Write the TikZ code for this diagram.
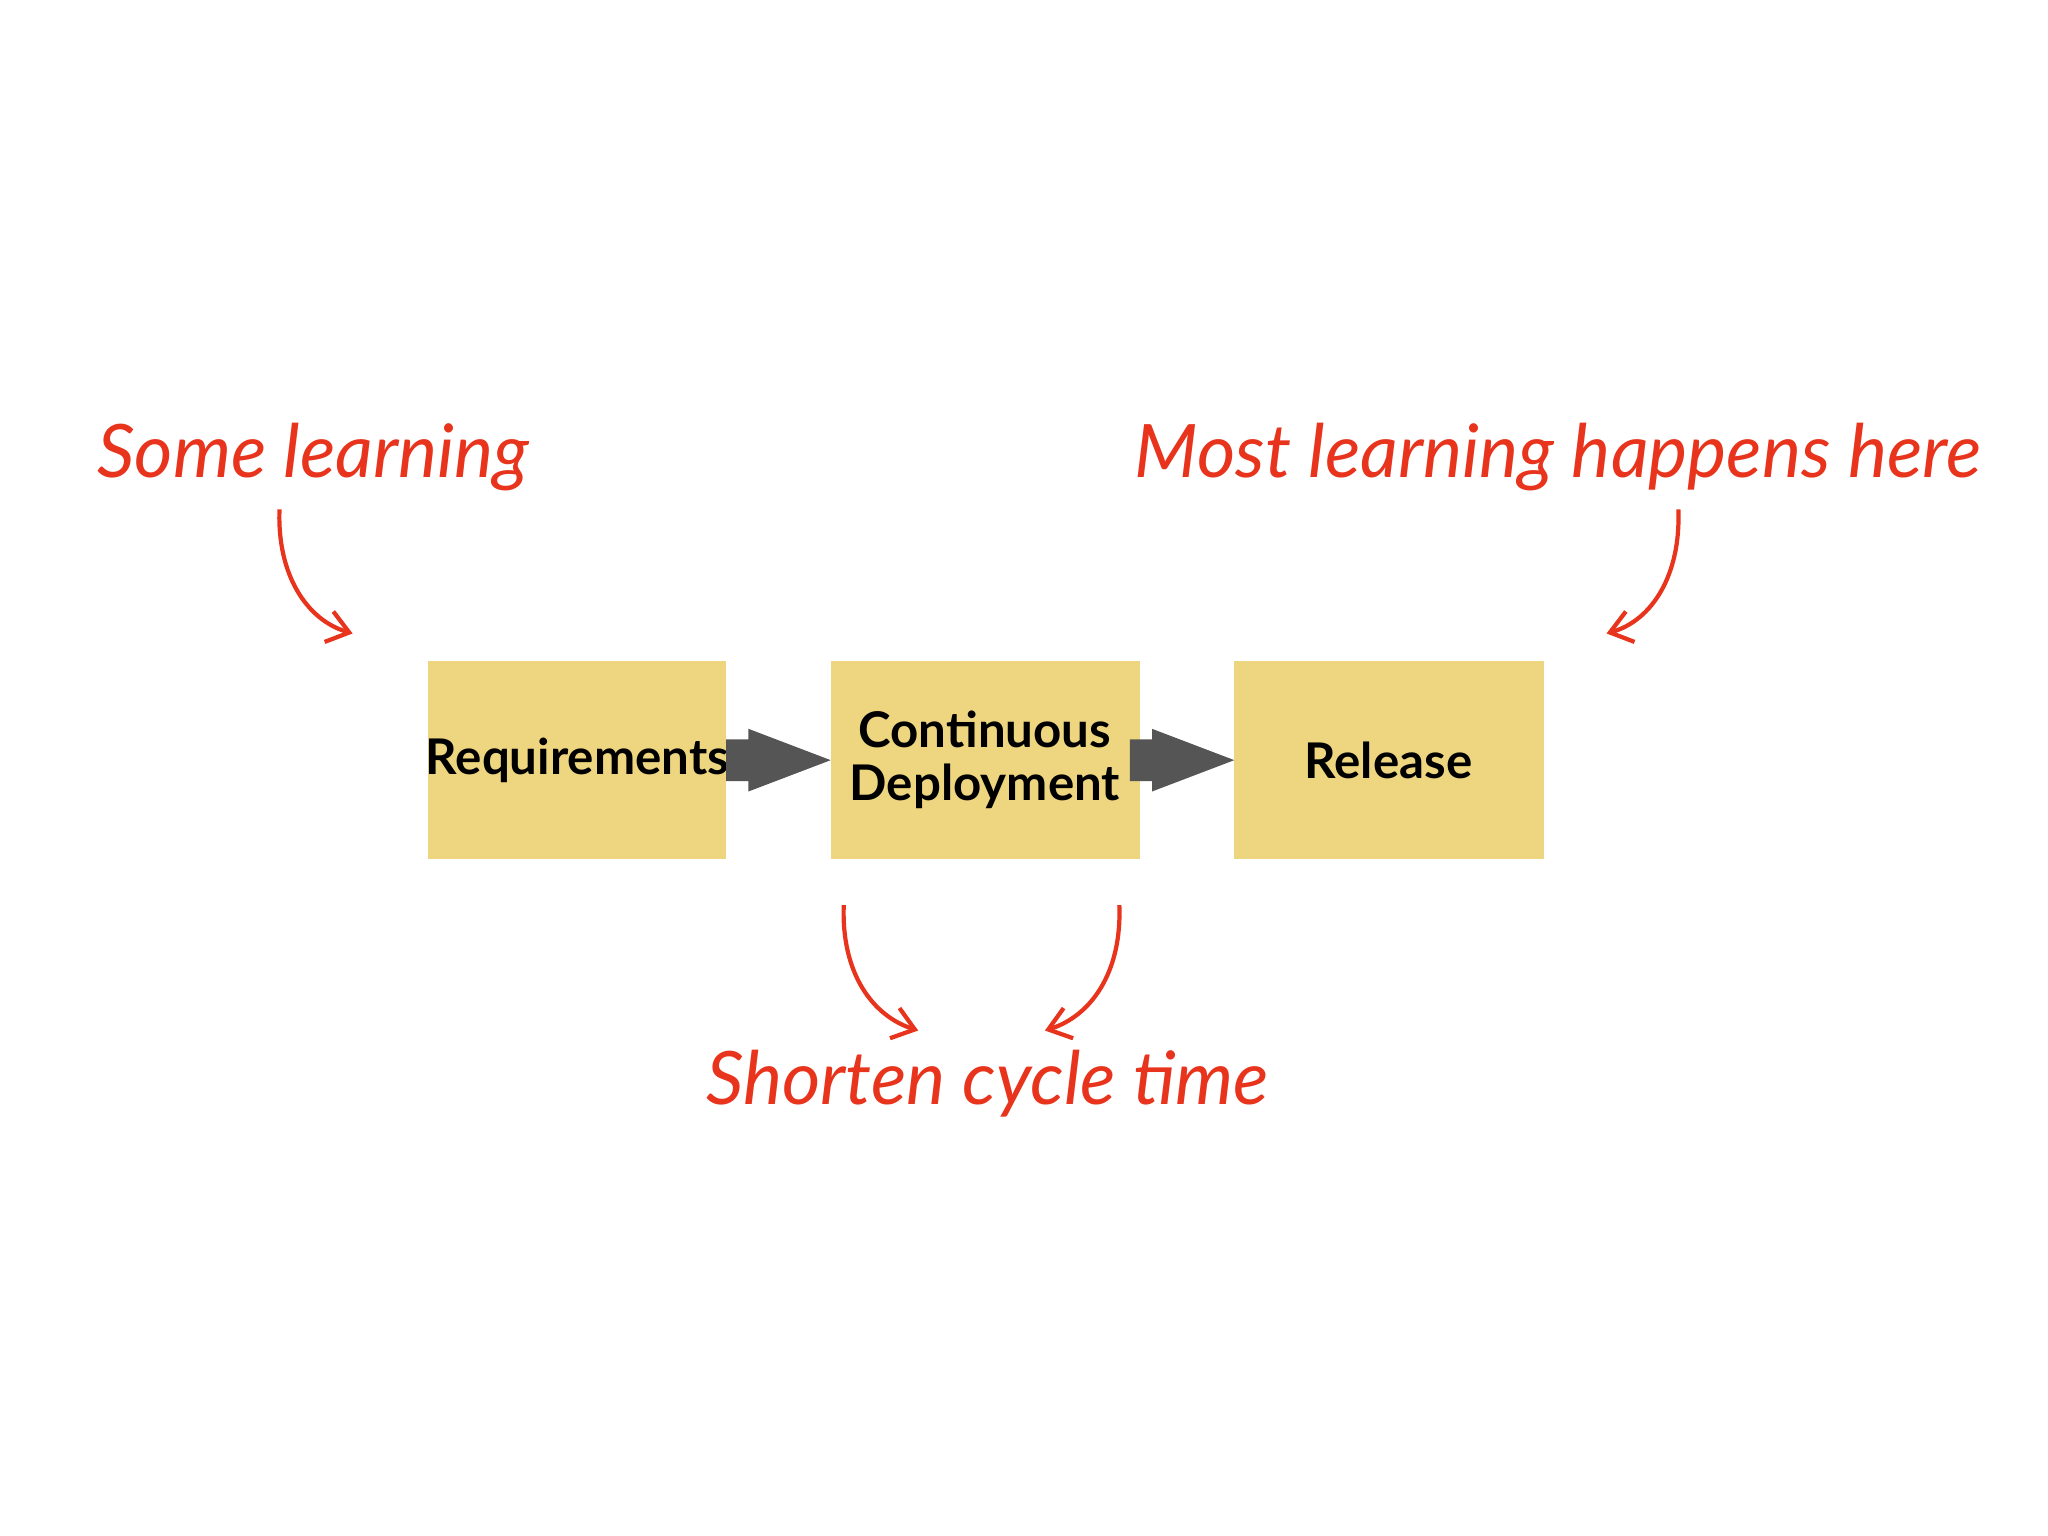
\documentclass[tikz,border=0pt]{standalone}
\usepackage{fontspec}
\setmainfont{Lato}
\usetikzlibrary{arrows.meta}
\definecolor{boxy}{HTML}{EDD67F}
\definecolor{red1}{HTML}{E8341C}
\definecolor{arr}{HTML}{555555}
\begin{document}
\begin{tikzpicture}[x=0.0130612cm,y=-0.0130612cm,
  box/.style={fill=boxy,draw=none,minimum width=229\pgflinewidth,inner sep=0pt,font=\fontsize{14}{17}\selectfont\bfseries,align=center},
  note/.style={text=red1,font=\fontsize{21}{24}\selectfont\itshape},
  curve/.style={draw=red1,line width=1.2pt,-{Straight Barb[length=6pt,width=9pt]}},
  blk/.style={fill=arr,draw=none}]
\useasboundingbox (0,0) rectangle (1568,1176);
\fill[white] (0,0) rectangle (1568,1176);
\fill[boxy] (328,506) rectangle (556,658);
\fill[boxy] (636,506) rectangle (873,658);
\fill[boxy] (945,506) rectangle (1182,658);
\node[box,fill=none] (req) at (442,582) {Requirements};
\node[box,fill=none] (cd) at (754,582) {Continuous\\[-2pt]Deployment};
\node[box,fill=none] (rel) at (1063,582) {Release};
\fill[blk] (556,566) -- (573,566) -- (573,558) -- (636,582) -- (573,606) -- (573,598) -- (556,598) -- cycle;
\fill[blk] (865,566) -- (882,566) -- (882,558) -- (945,582) -- (882,606) -- (882,598) -- (865,598) -- cycle;
\node[note] (some) at (240,350) {Some learning};
\node[note] (most) at (1193,350) {Most learning happens here};
\node[note] (short) at (756,830) {Shorten cycle time};
\coordinate (a1) at (214,390); \coordinate (b1) at (270,485);
\coordinate (a2) at (1285,390); \coordinate (b2) at (1230,485);
\coordinate (a3) at (646,693); \coordinate (b3) at (703,789);
\coordinate (a4) at (857,693); \coordinate (b4) at (800,789);
\draw[curve] (a1) .. controls (212,440) and (235,475) .. (b1);
\draw[curve] (a2) .. controls (1287,440) and (1265,475) .. (b2);
\draw[curve] (a3) .. controls (644,745) and (668,778) .. (b3);
\draw[curve] (a4) .. controls (859,745) and (835,778) .. (b4);
\end{tikzpicture}
\end{document}
